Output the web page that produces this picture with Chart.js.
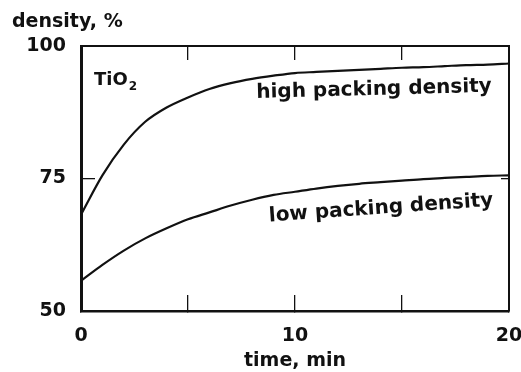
<!DOCTYPE html>
<html>
<head>
<meta charset="utf-8">
<script src="https://cdn.jsdelivr.net/npm/chart.js@4/dist/chart.umd.min.js"></script>
<style>
  html, body { margin: 0; padding: 0; background: #fff; }
  canvas { display: block; }
</style>
</head>
<body>
<canvas id="c" width="521" height="372"></canvas>
<script>
// Sintering time, minutes
const timeMin = [0, 1, 2, 3, 4, 5, 6, 7, 8, 9, 10, 11, 12, 13, 14, 15, 16, 17, 18, 19, 20];
// Relative density (%) of TiO2 compacts
const highPacking = [68.2, 75.6, 81.4, 85.7, 88.4, 90.3, 91.9, 93.0, 93.8, 94.4, 94.9, 95.1, 95.3, 95.5, 95.7, 95.9, 96.0, 96.2, 96.4, 96.5, 96.7];
const lowPacking  = [55.7, 58.7, 61.4, 63.7, 65.6, 67.3, 68.6, 69.9, 71.0, 71.9, 72.5, 73.1, 73.6, 74.0, 74.3, 74.6, 74.9, 75.1, 75.3, 75.5, 75.6];
const xTicks = [0, 10, 20];
const yTicks = [50, 75, 100];

const FONT = '"DejaVu Sans", "Liberation Sans", sans-serif';
const INK = '#111';

const toPoints = (ys) => timeMin.map((t, i) => ({ x: t, y: ys[i] }));

const lineStyle = {
  borderColor: INK,
  borderWidth: 2.2,
  pointRadius: 0,
  fill: false,
  cubicInterpolationMode: 'monotone'
};

// Caption text drawn on top of the plot
const captions = {
  id: 'captions',
  afterDraw(chart) {
    const { ctx, scales: { x, y } } = chart;
    ctx.save();
    ctx.fillStyle = INK;
    ctx.textBaseline = 'alphabetic';
    ctx.textAlign = 'left';

    ctx.font = 'bold 19px ' + FONT;
    ctx.fillText('density, %', 12, 27);

    ctx.font = 'bold 18px ' + FONT;
    ctx.fillText('TiO', 94, 85);
    const w = ctx.measureText('TiO').width;
    ctx.font = 'bold 12px ' + FONT;
    ctx.fillText('2', 94 + w + 1, 90);

    const tilted = (text, xv, yv, deg) => {
      ctx.save();
      ctx.translate(x.getPixelForValue(xv), y.getPixelForValue(yv));
      ctx.rotate(deg * Math.PI / 180);
      ctx.font = 'bold 20px ' + FONT;
      ctx.fillText(text, 0, 0);
      ctx.restore();
    };
    tilted('high packing density', 8.2, 90.2, -1.5);
    tilted('low packing density', 8.8, 66.9, -4);
    ctx.restore();
  }
};

const fixBox = (w, h) => (scale) => {
  if (w !== null) scale.width = w;
  if (h !== null) scale.height = h;
  scale.paddingLeft = 0; scale.paddingRight = 0;
  scale.paddingTop = 0; scale.paddingBottom = 0;
};

new Chart(document.getElementById('c'), {
  type: 'line',
  data: {
    datasets: [
      Object.assign({ label: 'high packing density', data: toPoints(highPacking) }, lineStyle),
      Object.assign({ label: 'low packing density', data: toPoints(lowPacking) }, lineStyle)
    ]
  },
  options: {
    responsive: false,
    animation: false,
    devicePixelRatio: 1,
    layout: { padding: { top: 46, right: 12, left: 0, bottom: 0 } },
    plugins: { legend: { display: false }, tooltip: { enabled: false } },
    scales: {
      x: {
        type: 'linear', position: 'bottom', min: 0, max: 20,
        ticks: {
          stepSize: 5, padding: 30, color: INK, maxRotation: 0,
          font: { family: FONT, size: 19, weight: 'bold' },
          callback: (v) => xTicks.includes(v) ? String(v) : ''
        },
        grid: { drawOnChartArea: false, tickLength: -16, color: INK, lineWidth: 1.3 },
        border: { color: INK, width: 2.5 },
        title: {
          display: true, text: 'time, min', color: INK,
          font: { family: FONT, size: 19, weight: 'bold' }, padding: { top: 0, bottom: 0 }
        },
        afterFit: fixBox(null, 61)
      },
      xTop: {
        type: 'linear', position: 'top', min: 0, max: 20,
        ticks: { stepSize: 5, display: false },
        grid: { drawOnChartArea: false, tickLength: -14, color: INK, lineWidth: 1.3 },
        border: { color: INK, width: 2 },
        afterFit: fixBox(null, 0)
      },
      y: {
        type: 'linear', position: 'left', min: 50, max: 100,
        ticks: {
          stepSize: 25, padding: 29, color: INK,
          font: { family: FONT, size: 19, weight: 'bold' },
          callback: (v) => yTicks.includes(v) ? String(v) : ''
        },
        grid: { drawOnChartArea: false, tickLength: -14, color: INK, lineWidth: 1.3 },
        border: { color: INK, width: 3 },
        afterFit: fixBox(81, null)
      },
      yRight: {
        type: 'linear', position: 'right', min: 50, max: 100,
        ticks: { stepSize: 25, display: false },
        grid: { drawOnChartArea: false, tickLength: -8, color: INK, lineWidth: 1.3 },
        border: { color: INK, width: 2 },
        afterFit: fixBox(0, null)
      }
    }
  },
  plugins: [captions]
});
</script>
</body>
</html>
